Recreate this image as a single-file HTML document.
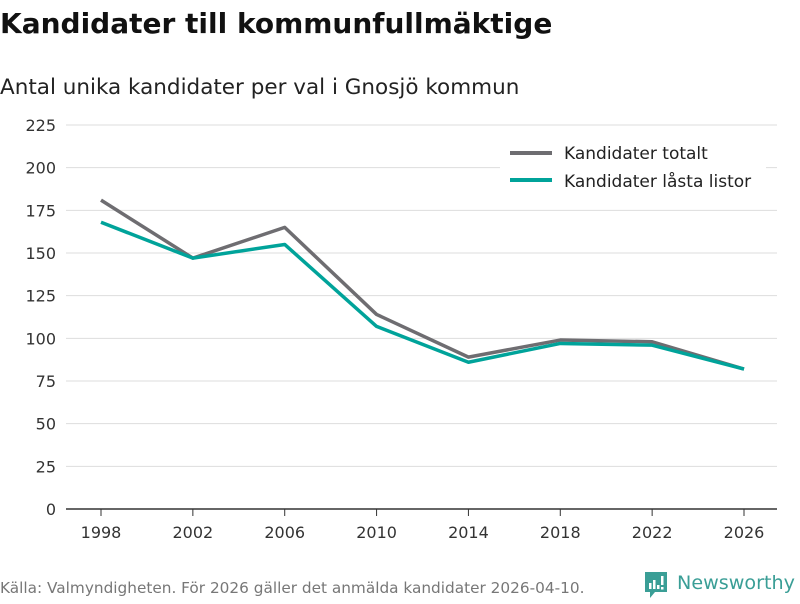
<!DOCTYPE html>
<html><head><meta charset="utf-8">
<style>
body{margin:0;width:800px;height:600px;background:#fff;font-family:"DejaVu Sans","Liberation Sans",sans-serif;overflow:hidden}
svg text{font-family:"DejaVu Sans","Liberation Sans",sans-serif}
</style></head>
<body>
<svg id="chart" width="800" height="600">
<text x="0" y="33" font-size="28" font-weight="bold" fill="#111">Kandidater till kommunfullmäktige</text>
<text x="0" y="94" font-size="21.5" fill="#222">Antal unika kandidater per val i Gnosjö kommun</text>
<g id="grid"></g><g id="xaxis"></g><g id="lines"></g>
<g>
<rect x="500" y="138" width="266" height="60" fill="#fff"/>
<line x1="510" y1="153" x2="552" y2="153" stroke="#6e6d71" stroke-width="4"/>
<text x="564" y="159" font-size="17" fill="#222">Kandidater totalt</text>
<line x1="510" y1="180" x2="552" y2="180" stroke="#00a39a" stroke-width="4"/>
<text x="564" y="187" font-size="17" fill="#222">Kandidater låsta listor</text>
</g>
<text x="0" y="593" font-size="15.3" fill="#777">Källa: Valmyndigheten. För 2026 gäller det anmälda kandidater 2026-04-10.</text>
<g>
<path d="M645 572h22v20h-12l-5 6v-6h-5z" fill="#3a9e96"/>
<rect x="649" y="583" width="2.5" height="6" fill="#fff"/><rect x="653" y="580" width="2.5" height="9" fill="#fff"/><rect x="657" y="585" width="2.5" height="4" fill="#fff"/><rect x="661" y="576" width="2.5" height="9" fill="#fff"/><rect x="661" y="587" width="2.5" height="2.5" fill="#fff"/>
<text x="677" y="589" font-size="19" fill="#3a9e96" textLength="118" lengthAdjust="spacingAndGlyphs">Newsworthy</text>
</g>
</svg>
<script>
const years=[1998,2002,2006,2010,2014,2018,2022,2026];
const totalt=[181,147,165,114,89,99,98,82];
const lasta=[168,147,155,107,86,97,96,82];
const yTicks=[0,25,50,75,100,125,150,175,200,225];
const NS="http://www.w3.org/2000/svg";
const x=v=>101+(v-1998)*(744-101)/28;
const y=v=>509-v*384/225;
const grid=document.getElementById('grid'),xa=document.getElementById('xaxis'),lines=document.getElementById('lines');
function mk(tag,attrs,parent){const e=document.createElementNS(NS,tag);for(const k in attrs)e.setAttribute(k,attrs[k]);parent.appendChild(e);return e;}
yTicks.forEach(t=>{
 const l=mk('line',{x1:66,x2:777,y1:y(t),y2:y(t),stroke:t===0?'#333':'#ddd','stroke-width':t===0?1.5:1},grid);
 
 
 const tx=mk('text',{x:56,y:y(t)+6,'font-size':16,fill:'#333','text-anchor':'end'},grid);
 tx.textContent=t;
 
 
});
years.forEach(yr=>{
 const l=mk('line',{x1:x(yr),x2:x(yr),y1:509,y2:516,stroke:'#333'},xa);
 
 
 const tx=mk('text',{x:x(yr),y:538,'font-size':16,fill:'#333','text-anchor':'middle'},xa);
 tx.textContent=yr;
 
 
});
function line(vals,color,name){
 const p=mk('polyline',{points:vals.map((v,i)=>x(years[i])+','+y(v)).join(' '),fill:'none',stroke:color,'stroke-width':3.5,'stroke-linejoin':'round'},lines);
 
 
}
line(totalt,'#6e6d71','series-kandidater-totalt');
line(lasta,'#00a39a','series-kandidater-lasta-listor');
</script>
</body></html>
